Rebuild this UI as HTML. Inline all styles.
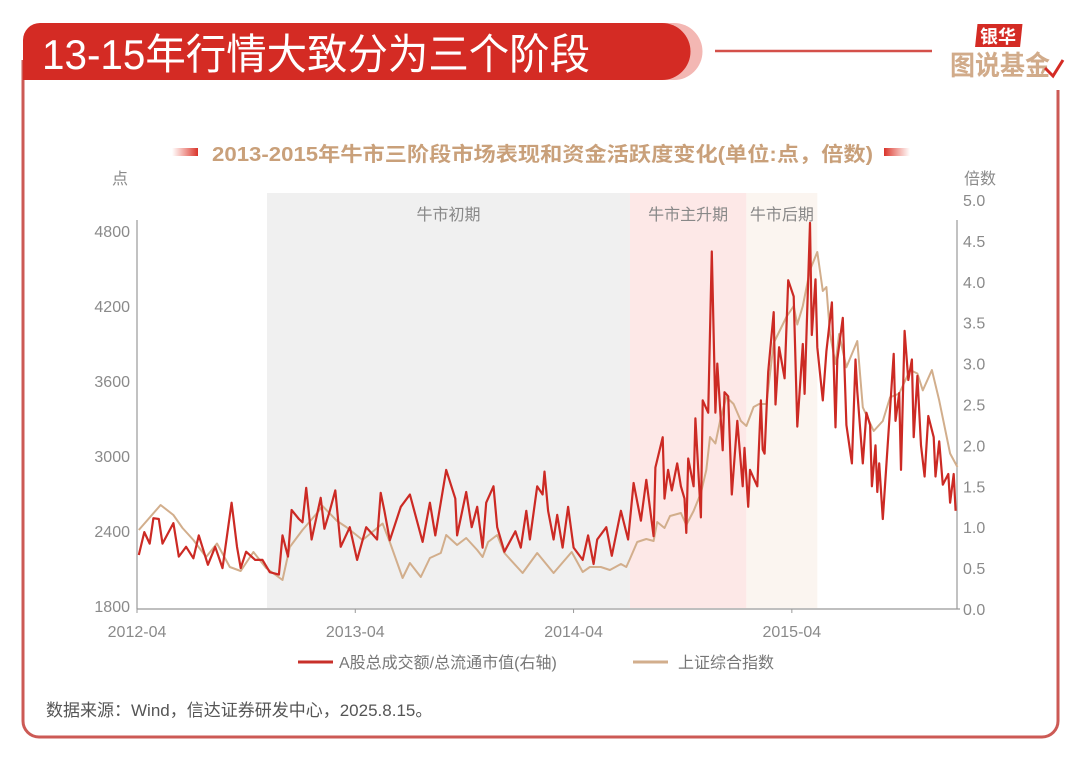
<!DOCTYPE html>
<html><head><meta charset="utf-8">
<style>
body{margin:0;background:#fff;width:1080px;height:759px;overflow:hidden;font-family:"Liberation Sans","Noto Sans CJK SC",sans-serif;}
svg{display:block}
</style></head>
<body>
<svg id="chart" width="1080" height="759" viewBox="0 0 1080 759" xmlns="http://www.w3.org/2000/svg">
<defs>
<linearGradient id="gl" x1="0" x2="1"><stop offset="0" stop-color="#e64b3c" stop-opacity="0"/><stop offset="1" stop-color="#d9332a"/></linearGradient>
<linearGradient id="gr" x1="1" x2="0"><stop offset="0" stop-color="#e64b3c" stop-opacity="0"/><stop offset="1" stop-color="#d9332a"/></linearGradient>
</defs>
<path d="M23 60 V721 a16 16 0 0 0 16 16 H1042 a16 16 0 0 0 16-16 V90" fill="none" stroke="#cc5a55" stroke-width="3"/>
<path d="M40 23 H668 a28 28 0 0 1 0 57 H23 V40 a17 17 0 0 1 17-17z" fill="#f3b7b3" transform="translate(6,0)"/>
<path d="M40 23 H662 a28.5 28.5 0 0 1 0 57 H23 V40 a17 17 0 0 1 17-17z" fill="#d42b24"/>
<text x="42" y="69" font-size="42" textLength="548" lengthAdjust="spacingAndGlyphs" fill="#fff" font-family="'Liberation Sans','Noto Sans CJK SC',sans-serif">13-15年行情大致分为三个阶段</text>
<line x1="715" y1="51" x2="932" y2="51" stroke="#d4504a" stroke-width="2.5"/>
<g>
<rect x="980" y="24" width="45" height="23" fill="#d42b24" transform="skewX(-6)"/>
<text x="980" y="43" font-size="18" font-weight="bold" fill="#fff">银华</text>
<text x="950" y="75" font-size="27" font-weight="bold" textLength="100" lengthAdjust="spacingAndGlyphs" fill="#d1ab8a">图说基金</text>
<path d="M1045 68 l8 8 l10-16" stroke="#d42b24" stroke-width="3" fill="none"/>
</g>
<rect x="172" y="148" width="26" height="8" fill="url(#gl)"/>
<rect x="884" y="148" width="26" height="8" fill="url(#gr)"/>
<text x="212" y="161" font-size="20" font-weight="bold" textLength="661" lengthAdjust="spacingAndGlyphs" fill="#c9a07a">2013-2015年牛市三阶段市场表现和资金活跃度变化(单位:点，倍数)</text>
<text x="120" y="184" text-anchor="middle" font-size="16" fill="#8a8a8a">点</text>
<text x="980" y="184" text-anchor="middle" font-size="16" fill="#8a8a8a">倍数</text>
<g id="bands"></g>
<g id="axes"></g>
<g id="series"></g>
<g>
<line x1="298" y1="662" x2="333" y2="662" stroke="#c8302a" stroke-width="3"/>
<text x="339" y="668" font-size="16" fill="#777">A股总成交额/总流通市值(右轴)</text>
<line x1="633" y1="662" x2="668" y2="662" stroke="#d2ae8c" stroke-width="3"/>
<text x="678" y="668" font-size="16" fill="#777">上证综合指数</text>
</g>
<text x="46" y="716" font-size="17" fill="#555">数据来源：Wind，信达证券研发中心，2025.8.15。</text>
</svg>
<script>
// months since 2012-04
const redMonths=[0.1,0.4,0.7,0.9,1.2,1.4,2.0,2.3,2.7,3.1,3.4,3.9,4.3,4.7,5.2,5.5,5.7,6.0,6.5,6.9,7.3,7.8,8.0,8.3,8.5,8.9,9.1,9.3,9.6,10.1,10.3,10.6,10.9,11.2,11.7,12.1,12.6,13.2,13.4,13.6,13.9,14.5,15.0,15.7,16.1,16.4,17.0,17.5,17.6,18.1,18.4,18.7,19.0,19.2,19.6,19.8,20.2,20.8,21.1,21.4,21.6,22.0,22.3,22.4,22.6,22.9,23.1,23.4,23.7,24.0,24.5,24.8,25.1,25.3,25.8,26.1,26.6,27.0,27.3,27.7,28.0,28.4,28.5,28.9,29.0,29.2,29.4,29.7,29.9,30.1,30.2,30.3,30.6,30.7,31.0,31.1,31.4,31.6,31.8,31.9,32.2,32.3,32.5,32.7,33.0,33.3,33.4,33.6,33.7,34.1,34.3,34.4,34.5,34.7,35.0,35.1,35.3,35.6,35.8,36.1,36.3,36.6,36.7,37.0,37.1,37.3,37.4,37.7,37.9,38.2,38.4,38.5,38.8,39.0,39.3,39.5,39.6,39.9,40.1,40.3,40.4,40.6,40.7,40.8,41.0,41.4,41.6,41.7,41.9,42.0,42.2,42.4,42.6,42.7,42.9,43.1,43.3,43.5,43.8,43.9,44.1,44.3,44.6,44.7,44.9,45.0];
const redValues=[0.66,0.94,0.8,1.11,1.1,0.8,1.05,0.64,0.76,0.62,0.9,0.54,0.76,0.5,1.3,0.76,0.5,0.7,0.6,0.6,0.45,0.42,0.9,0.64,1.21,1.1,1.06,1.48,0.85,1.36,0.98,1.2,1.45,0.76,1.0,0.6,1.0,0.85,1.42,1.2,0.84,1.25,1.4,0.82,1.3,0.9,1.7,1.35,0.9,1.43,1.0,1.25,0.75,1.3,1.5,1.0,0.7,0.95,0.75,1.2,0.85,1.5,1.4,1.68,1.2,0.85,1.15,0.75,1.25,0.75,0.6,0.9,0.55,0.85,1.0,0.65,1.2,0.85,1.54,1.08,1.58,0.89,1.73,2.1,1.35,1.7,1.45,1.78,1.5,1.35,0.93,1.84,1.5,2.33,1.12,2.55,2.4,4.37,2.4,3.0,1.94,2.65,2.6,1.4,2.3,1.5,1.97,1.25,1.7,1.5,2.55,1.95,1.9,2.9,3.63,2.5,3.2,2.82,4.02,3.82,2.23,3.24,2.63,4.72,3.35,4.03,3.2,2.55,3.15,3.75,2.22,3.05,3.56,2.25,1.78,3.05,2.66,1.78,2.4,2.25,1.5,2.0,1.43,1.78,1.1,2.45,3.12,2.3,2.64,1.7,3.4,2.8,3.05,2.1,2.85,2.0,1.62,2.36,2.1,1.62,2.05,1.52,1.65,1.3,1.65,1.2];
const idxMonths=[0.1,1.3,2.0,2.5,3.1,3.8,4.4,5.1,5.7,6.4,7.1,8.0,8.4,9.1,9.9,10.2,11.0,11.5,12.4,13.5,13.9,14.6,15.0,15.6,16.1,16.7,17.0,17.6,18.1,18.7,19.0,19.3,19.8,20.2,21.2,22.0,22.9,23.9,24.5,24.9,25.5,26.0,26.6,26.9,27.1,27.5,28.0,28.4,28.6,29.0,29.3,29.9,30.2,30.6,31.0,31.3,31.5,31.8,32.1,32.4,32.8,33.2,33.5,33.9,34.2,34.6,35.0,35.7,36.1,36.3,36.6,37.0,37.4,37.7,37.9,38.1,38.4,38.6,39.0,39.6,39.9,40.5,41.0,41.4,41.9,42.5,42.9,43.2,43.7,44.1,44.7,45.1];
const idxValues=[2408,2608,2528,2424,2328,2192,2300,2112,2080,2232,2104,2008,2272,2408,2544,2600,2480,2432,2328,2460,2312,2024,2144,2032,2184,2224,2368,2288,2344,2248,2192,2312,2368,2224,2064,2224,2064,2232,2072,2112,2112,2088,2136,2112,2176,2312,2336,2320,2472,2424,2520,2544,2448,2560,2704,2888,3152,3100,3312,3472,3416,3280,3240,3392,3416,3416,3904,4112,4200,4052,4200,4488,4632,4320,4352,3976,3736,3976,3710,3920,3390,3200,3280,3470,3500,3688,3660,3525,3688,3445,3020,2912];
const leftTicks=[1800,2400,3000,3600,4200,4800];
const rightTicks=[0.0,0.5,1.0,1.5,2.0,2.5,3.0,3.5,4.0,4.5,5.0];
const xTickMonths=[0,12,24,36];
const xTickLabels=["2012-04","2013-04","2014-04","2015-04"];
const phaseNames=["牛市初期","牛市主升期","牛市后期"];
const phaseStart=[7.15,27.1,33.5];
const phaseEnd=[27.1,33.5,37.4];
const phaseColors=["#f0f0f0","#fde8e7","#fbf5f0"];

const NS="http://www.w3.org/2000/svg";
const xS=m=>137+m*18.19;
const yL=v=>231+(4800-v)*0.125;
const yR=v=>609-v*81.8;
function mk(tag,attrs,parent,text){const e=document.createElementNS(NS,tag);for(const k in attrs)e.setAttribute(k,attrs[k]);if(text!==undefined)e.textContent=text;parent.appendChild(e);return e;}
const bands=document.getElementById('bands'),axes=document.getElementById('axes'),series=document.getElementById('series');
phaseNames.forEach((n,i)=>{
  const r=mk('rect',{x:xS(phaseStart[i]),y:193,width:xS(phaseEnd[i])-xS(phaseStart[i]),height:415,fill:phaseColors[i]},bands);
  
  
  const t=mk('text',{x:(xS(phaseStart[i])+xS(phaseEnd[i]))/2,y:220,'text-anchor':'middle','font-size':16,fill:'#888'},bands,n);
  
  
});
const al=mk('line',{x1:137,y1:220,x2:137,y2:609,stroke:'#999','stroke-width':1.2},axes);


const ar=mk('line',{x1:957,y1:220,x2:957,y2:609,stroke:'#999','stroke-width':1.2},axes);


const ax=mk('line',{x1:137,y1:609,x2:960,y2:609,stroke:'#999','stroke-width':1.2},axes);


leftTicks.forEach(v=>{const t=mk('text',{x:130,y:yL(v)+6,'text-anchor':'end','font-size':16,fill:'#8a8a8a'},axes,String(v));
  
  });
rightTicks.forEach(v=>{const t=mk('text',{x:963,y:yR(v)+6,'font-size':16,fill:'#8a8a8a'},axes,v.toFixed(1));
  
  });
xTickMonths.forEach((m,i)=>{mk('line',{x1:xS(m),y1:609,x2:xS(m),y2:613,stroke:'#999'},axes);
  const t=mk('text',{x:xS(m),y:637,'text-anchor':'middle','font-size':16,fill:'#8a8a8a'},axes,xTickLabels[i]);
  
  });
const p1=mk('polyline',{points:idxMonths.map((m,i)=>xS(m).toFixed(1)+','+yL(idxValues[i]).toFixed(1)).join(' '),fill:'none',stroke:'#d2ae8c','stroke-width':2,'stroke-linejoin':'round'},series);


const p2=mk('polyline',{points:redMonths.map((m,i)=>xS(m).toFixed(1)+','+yR(redValues[i]).toFixed(1)).join(' '),fill:'none',stroke:'#cc2a24','stroke-width':2.2,'stroke-linejoin':'round'},series);


</script>
</body></html>
